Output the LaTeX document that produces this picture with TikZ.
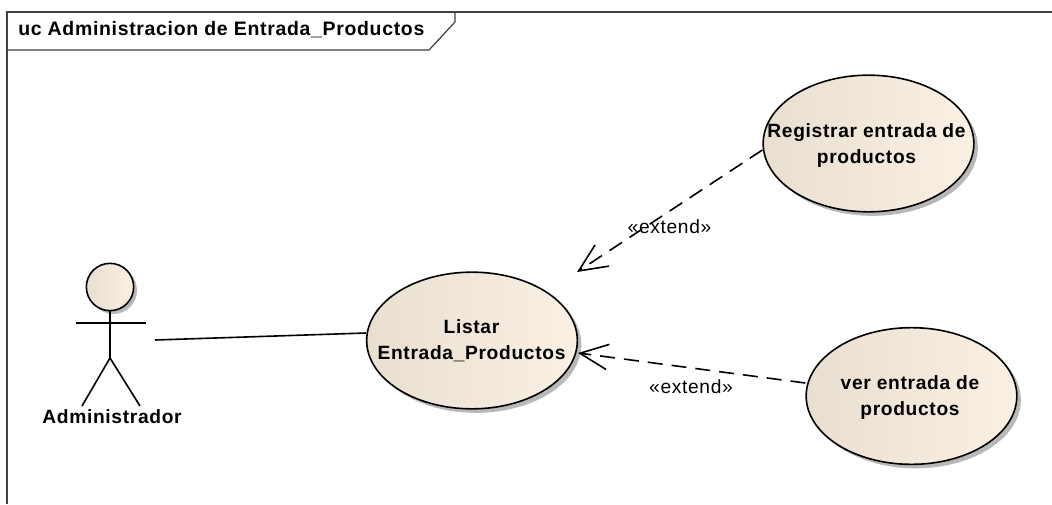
\documentclass[tikz,border=0pt]{standalone}
\usepackage{fontspec}
\setmainfont[LetterSpace=3.5]{Liberation Sans}
\usetikzlibrary{shapes.geometric,arrows.meta,shadows,fadings}
\definecolor{ucdark}{HTML}{E8DFD1}
\definecolor{uclight}{HTML}{FAF1E4}
\newcommand{\diagfont}{\fontsize{14.4}{19.5}\selectfont}
\tikzset{
  usecase/.style={ellipse,draw=black,line width=1.2pt,inner sep=0pt,
    left color=ucdark,middle color=uclight,right color=uclight,
    minimum width=158pt,minimum height=102.5pt,
    general shadow={fill=black!28,shadow xshift=3pt,shadow yshift=-3pt}},
  uctext/.style={align=center,inner sep=0pt,font=\diagfont\bfseries},
  framestroke/.style={draw=black!75,line width=0.9pt},
  stick/.style={draw=black,line width=1.2pt},
  extendrel/.style={draw=black,line width=1.2pt,dash pattern=on 11.25pt off 6.75pt,
    -{Straight Barb[length=21pt,width=19pt,line width=1.2pt]}},
  lbl/.style={font=\diagfont,inner sep=0pt},
  actorlbl/.style={font=\diagfont\bfseries,inner sep=0pt},
}
\begin{document}
\begin{tikzpicture}[x=0.75pt,y=-0.75pt]
\useasboundingbox (0,0) rectangle (1052,504);
\fill[white] (0,0) rectangle (1052,504);
% frame
\draw[framestroke] (7,504) -- (7,12) -- (1052,12);
\draw[framestroke] (7,50) -- (429,50) -- (455,22) -- (455,12);
\node[anchor=west,font=\fontsize{14.6}{16}\selectfont\bfseries,inner sep=0pt] (title) at (18,30) {uc Administracion de Entrada\_Productos};
% actor
\node[circle,draw=black,line width=1.2pt,inner sep=0pt,minimum size=35.5pt,
  left color=ucdark,middle color=uclight,right color=uclight,
  general shadow={fill=black!28,shadow xshift=2.5pt,shadow yshift=-2.5pt}] (head) at (110,287) {};
\coordinate (hip) at (110,358);
\coordinate (armL) at (76,323);
\coordinate (armR) at (146,323);
\coordinate (legL) at (82,406);
\coordinate (legR) at (140,406);
\draw[stick] (head.south) -- (hip);
\draw[stick] (armL) -- (armR);
\draw[stick] (legL) -- (hip) -- (legR);
\node[actorlbl] (actor) at (112,417) {Administrador};
% use cases
\node[usecase] (listar) at (472,340.5) {};
\node[uctext] (listarT) at (471.5,340.5) {Listar\\Entrada\_Productos};
\node[usecase] (registrar) at (868.5,143.5) {};
\node[uctext] (registrarT) at (866.5,146) {Registrar entrada de\\productos};
\node[usecase] (ver) at (911.5,396) {};
\node[uctext] (verT) at (910,398) {ver entrada de\\productos};
% connectors
\coordinate (actorend) at (155,340);
\coordinate (tipR) at (577,272);
\coordinate (tipV) at (578,353);
\draw[stick] (actorend) -- (listar.west |- 0,333);
\draw[extendrel] (registrar.west |- 0,150) -- (tipR);
\draw[extendrel] (ver.west |- 0,383) -- (tipV);
\node[lbl] (l1) at (669.5,227) {«extend»};
\node[lbl] (l2) at (691,387) {«extend»};
\end{tikzpicture}
\end{document}
